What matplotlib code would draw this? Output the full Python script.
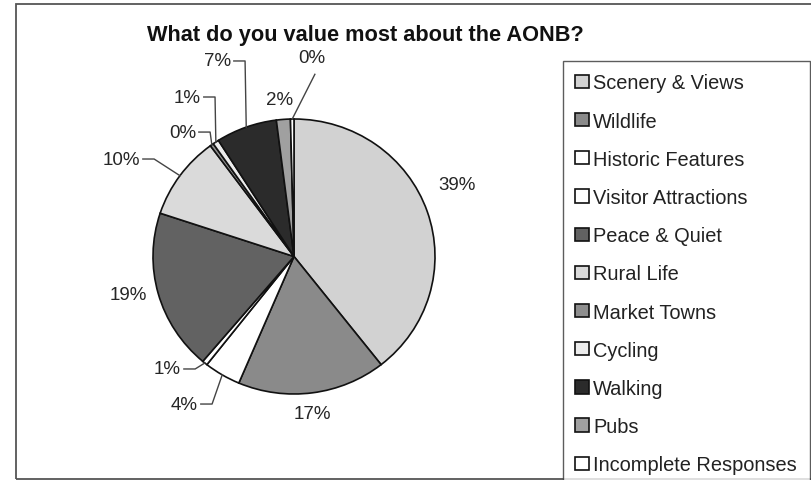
import numpy as np
import matplotlib
matplotlib.use('Agg')
import matplotlib.pyplot as plt
from matplotlib.patches import Rectangle

plt.rcParams['font.family'] = ['Liberation Sans', 'DejaVu Sans']

# data (percent of responses), clockwise from 12 o'clock
categories = ['Scenery & Views', 'Wildlife', 'Historic Features',
              'Visitor Attractions', 'Peace & Quiet', 'Rural Life',
              'Market Towns', 'Cycling', 'Walking', 'Pubs',
              'Incomplete Responses']
values = [39.4, 17.0, 4.2, 0.6, 18.9, 9.8, 0.4, 0.7, 7.0, 1.6, 0.4]
title = 'What do you value most about the AONB?'

colors = ['#d2d2d2', '#8a8a8a', '#ffffff', '#ffffff', '#626262', '#dadada',
          '#8e8e8e', '#ececec', '#2b2b2b', '#a0a0a0', '#ffffff']

# label layout in pie units: (x, y, ha, leader)
label_layout = [
    (1.156, 0.527, 'center', None),
    (0.128, -1.145, 'center', None),
    (-0.681, -1.073, 'right', 'elbow'),
    (-0.801, -0.818, 'right', 'elbow'),
    (-1.177, -0.280, 'center', None),
    (-1.092, 0.709, 'right', 'elbow'),
    (-0.695, 0.905, 'right', 'elbow'),
    (-0.660, 1.160, 'right', 'elbow'),
    (-0.447, 1.422, 'right', 'elbow'),
    (-0.099, 1.145, 'center', None),
    (0.128, 1.445, 'center', 'straight'),
]

W, H = 811, 481
fig = plt.figure(figsize=(W / 100, H / 100), dpi=100)
fig.patch.set_facecolor('white')

# outer chart border (left, top, bottom)
fig.add_artist(Rectangle((16 / W, 1 / H), 1.0, 1 - 6 / H,
                         transform=fig.transFigure, fill=False,
                         edgecolor='#555555', lw=1.3))

ax = fig.add_axes([153 / W, (H - 395) / H, 282 / W, 275 / H])
wedges, _ = ax.pie(values, colors=colors, startangle=90, counterclock=False,
                   wedgeprops=dict(edgecolor='#111111', linewidth=1.2))
ax.set_aspect('auto')
ax.set_xlim(-1, 1)
ax.set_ylim(-1, 1)
ax.axis('off')

for w, v, (lx, ly, ha, leader) in zip(wedges, values, label_layout):
    ax.text(lx, ly, '{0:d}%'.format(int(round(v))), ha=ha, va='center',
            fontsize=13.5, color='#262626', clip_on=False)
    mid = np.deg2rad((w.theta1 + w.theta2) / 2)
    ex, ey = np.cos(mid), np.sin(mid)
    if leader == 'elbow':
        xs = [lx + 0.02, lx + 0.1, ex]
        ys = [ly, ly, ey]
        ax.plot(xs, ys, color='#444444', lw=1, clip_on=False)
    elif leader == 'straight':
        ax.plot([lx + 0.02, ex], [ly - 0.12, ey], color='#444444', lw=1,
                clip_on=False)

fig.text(365 / W, 1 - 35 / H, title, ha='center', va='center',
         fontsize=15.7, fontweight='bold', color='#111111')

leg = fig.legend(wedges, categories, loc='upper left',
                 bbox_to_anchor=(563 / W, 1 - 62 / H), borderaxespad=0,
                 fontsize=14.4, frameon=True, fancybox=False,
                 labelspacing=0.96, handlelength=0.7, handleheight=0.65,
                 handletextpad=0.2, borderpad=0.62, labelcolor='#222222')
leg.get_frame().set_edgecolor('#333333')
leg.get_frame().set_linewidth(1.0)

fig.savefig('out.png', dpi=100)
